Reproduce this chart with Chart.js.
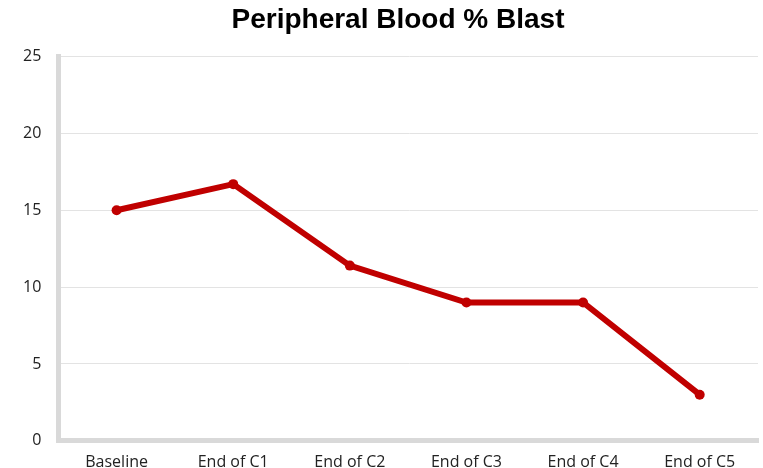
<!DOCTYPE html>
<html>
<head>
<meta charset="utf-8">
<script src="https://cdn.jsdelivr.net/npm/chart.js@4"></script>
<style>
html,body{margin:0;padding:0;background:#fff;}
#wrap{width:763px;height:468px;}
</style>
</head>
<body>
<div id="wrap"><canvas id="c" width="763" height="468"></canvas></div>
<script>
const categories = ["Baseline", "End of C1", "End of C2", "End of C3", "End of C4", "End of C5"];
const blastValues = [15, 16.7, 11.4, 9, 9, 3];
const yTicks = [0, 5, 10, 15, 20, 25];

const shiftTitle = {
  id: 'shiftTitle',
  afterLayout(chart) {
    if (chart.titleBlock) { chart.titleBlock.left += 28; }
  }
};

new Chart(document.getElementById('c'), {
  type: 'line',
  data: {
    labels: categories,
    datasets: [{
      label: 'Peripheral Blood % Blast',
      data: blastValues,
      borderColor: '#c00000',
      backgroundColor: '#c00000',
      borderWidth: 6,
      pointRadius: 5,
      pointHoverRadius: 5,
      pointBorderWidth: 0,
      tension: 0,
      fill: false
    }]
  },
  options: {
    responsive: false,
    animation: false,
    devicePixelRatio: 1,
    layout: { padding: { left: 6, right: 1, top: 0, bottom: -16 } },
    plugins: {
      legend: { display: false },
      tooltip: { enabled: false },
      title: {
        display: true,
        text: 'Peripheral Blood % Blast',
        color: '#000',
        font: { family: 'Liberation Sans, Arial, sans-serif', size: 28, weight: 'bold' },
        padding: { top: 3, bottom: 20 }
      }
    },
    scales: {
      x: {
        offset: true,
        afterFit(scale) { scale.paddingRight = 0; },
        grid: { display: false, drawTicks: false },
        border: { display: true, color: '#d9d9d9', width: 5 },
        ticks: {
          color: '#222',
          font: { family: 'Open Sans, sans-serif', size: 16 },
          padding: 12,
          maxRotation: 0
        }
      },
      y: {
        min: 0,
        max: 25,
        afterBuildTicks(axis) { axis.ticks = yTicks.map(v => ({ value: v })); },
        grid: { color: '#e3e3e3', lineWidth: 1, drawTicks: false },
        border: { display: true, color: '#d9d9d9', width: 5 },
        ticks: {
          color: '#222',
          font: { family: 'Open Sans, sans-serif', size: 16 },
          padding: 17
        }
      }
    }
  },
  plugins: [shiftTitle]
});
</script>
</body>
</html>
